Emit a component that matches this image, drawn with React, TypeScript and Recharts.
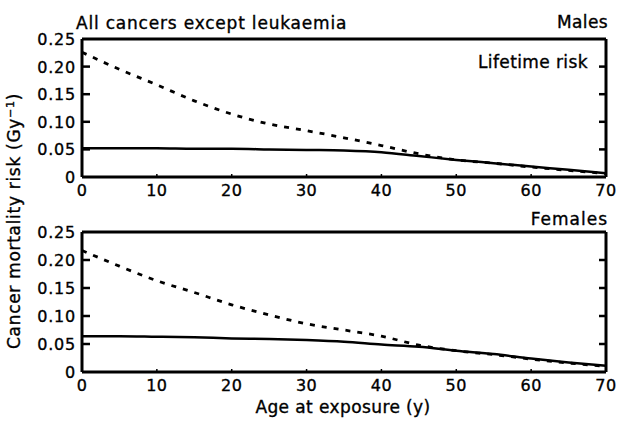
import React from 'react';
import { LineChart, Line, XAxis, YAxis, ReferenceLine } from 'recharts';

// Age at exposure (years)
const ages = [0, 5, 10, 15, 20, 25, 30, 35, 40, 45, 50, 55, 60, 65, 70];

// Males: dashed curve and solid curve (risk per Gy)
const malesDashed = [0.226, 0.195, 0.167, 0.138, 0.114, 0.096, 0.084, 0.071, 0.057, 0.042, 0.031, 0.025, 0.018, 0.012, 0.006];
const malesSolid = [0.052, 0.052, 0.052, 0.051, 0.051, 0.05, 0.049, 0.048, 0.045, 0.038, 0.031, 0.025, 0.019, 0.013, 0.007];

// Females
const femalesDashed = [0.217, 0.189, 0.163, 0.142, 0.12, 0.102, 0.086, 0.075, 0.064, 0.048, 0.038, 0.031, 0.023, 0.016, 0.01];
const femalesSolid = [0.064, 0.064, 0.063, 0.062, 0.06, 0.059, 0.057, 0.054, 0.049, 0.045, 0.038, 0.032, 0.024, 0.017, 0.011];

const xTicks = [0, 10, 20, 30, 40, 50, 60, 70];
const yTicks = [0, 0.05, 0.1, 0.15, 0.2, 0.25];

const FONT = '"DejaVu Sans", sans-serif';
const WIDTH = 617;
const MARGIN_RIGHT = 11;
const PLOT_RIGHT = WIDTH - MARGIN_RIGHT;
const CHART_H = 215;

const buildRows = (dashed: number[], solid: number[]) =>
  ages.map((age, i) => ({ age, dashed: dashed[i], solid: solid[i] }));

const maleRows = buildRows(malesDashed, malesSolid);
const femaleRows = buildRows(femalesDashed, femalesSolid);

// scanned text looks a bit heavy, so a thin outline
const textStyle = { fontFamily: FONT, fill: '#000', stroke: '#000', strokeWidth: 0.35 };

// y ticks drawn inward on both sides of the box
const YTick = (props: any) => {
  const { x, y, payload } = props;
  const v = payload.value as number;
  const label = v === 0 ? '0' : v.toFixed(2);
  const inner = v !== 0 && v !== 0.25;
  return (
    <g>
      {inner && <line x1={x} x2={x + 8} y1={y} y2={y} stroke="#000" strokeWidth={2.5} />}
      {inner && (
        <line x1={PLOT_RIGHT - 7} x2={PLOT_RIGHT} y1={y} y2={y} stroke="#000" strokeWidth={2.5} />
      )}
      <text x={x - 6} y={y + 6} textAnchor="end" fontSize={16} letterSpacing={0.8} style={textStyle}>
        {label}
      </text>
    </g>
  );
};

const XTick = (props: any) => {
  const { x, y, payload } = props;
  return (
    <g>
      <line x1={x} x2={x} y1={y} y2={y - 3} stroke="#000" strokeWidth={1.5} />
      <text x={x} y={y + 19} textAnchor="middle" fontSize={16} letterSpacing={0.5} style={textStyle}>
        {payload.value}
      </text>
    </g>
  );
};

function Panel({ rows, marginTop, marginBottom }: { rows: any[]; marginTop: number; marginBottom: number }) {
  return (
    <LineChart
      width={WIDTH}
      height={CHART_H}
      data={rows}
      margin={{ top: marginTop, right: MARGIN_RIGHT, bottom: marginBottom, left: 42 }}
    >
      <XAxis
        dataKey="age"
        type="number"
        domain={[0, 70]}
        ticks={xTicks}
        height={20}
        tickSize={0}
        tickMargin={0}
        tickLine={false}
        axisLine={{ stroke: '#000', strokeWidth: 3 }}
        tick={<XTick />}
        interval={0}
      />
      <YAxis
        type="number"
        domain={[0, 0.25]}
        ticks={yTicks}
        width={40}
        tickSize={0}
        tickMargin={0}
        tickLine={false}
        axisLine={{ stroke: '#000', strokeWidth: 3 }}
        tick={<YTick />}
        interval={0}
      />
      <ReferenceLine y={0.25} stroke="#000" strokeWidth={3} />
      <ReferenceLine x={70} stroke="#000" strokeWidth={3} />
      <Line
        type="monotone"
        dataKey="dashed"
        stroke="#000"
        strokeWidth={2.8}
        strokeDasharray="5 7"
        dot={false}
        activeDot={false}
        isAnimationActive={false}
      />
      <Line
        type="monotone"
        dataKey="solid"
        stroke="#000"
        strokeWidth={2.5}
        dot={false}
        activeDot={false}
        isAnimationActive={false}
      />
    </LineChart>
  );
}

export default function App() {
  return (
    <div style={{ position: 'absolute', left: 0, top: 0, width: WIDTH, height: 424, background: '#fff' }}>
      <div style={{ position: 'absolute', left: 0, top: 0 }}>
        <Panel rows={maleRows} marginTop={39} marginBottom={CHART_H - 20 - 177} />
      </div>
      <div style={{ position: 'absolute', left: 0, top: 193 }}>
        <Panel rows={femaleRows} marginTop={39} marginBottom={CHART_H - 20 - 179} />
      </div>
      <svg
        width={WIDTH}
        height={424}
        style={{ position: 'absolute', left: 0, top: 0, pointerEvents: 'none' }}
      >
        <text x={76} y={29} fontSize={17} letterSpacing={0.8} style={textStyle}>
          All cancers except leukaemia
        </text>
        <text x={608} y={28} fontSize={17} textAnchor="end" letterSpacing={0.4} style={textStyle}>
          Males
        </text>
        <text x={588} y={68} fontSize={17} textAnchor="end" letterSpacing={0.4} style={textStyle}>
          Lifetime risk
        </text>
        <text x={608} y={225} fontSize={17} textAnchor="end" letterSpacing={1} style={textStyle}>
          Females
        </text>
        <text x={343} y={413} fontSize={17} textAnchor="middle" letterSpacing={0.4} style={textStyle}>
          Age at exposure (y)
        </text>
        <text
          x={20}
          y={221}
          fontSize={17}
          textAnchor="middle"
          letterSpacing={0.7}
          transform="rotate(-90 20 221)"
          style={textStyle}
        >
          Cancer mortality risk (Gy<tspan dy={-6} fontSize={11}>−1</tspan>
          <tspan dy={6}>)</tspan>
        </text>
      </svg>
    </div>
  );
}
